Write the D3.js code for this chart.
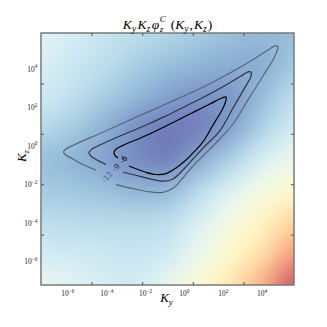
<!DOCTYPE html>
<html>
<head>
<meta charset="utf-8">
<style>
    body { margin: 0; background: #fff; }
    svg { display: block; }
    .ticks line { stroke: #555; stroke-width: 1; }
    .ticks path { display: none; }
    .labs path, .labs line { display: none; }
</style>
</head>
<body>
<svg width="327" height="327"></svg>

<script src="https://d3js.org/d3.v7.min.js"></script>
<script>
// log10 extent of the image on each axis
const kyRange = [-7.36, 5.67]
const kzRange = [-7.22, 5.85]
const tickExp = [-6, -4, -2, 0, 2, 4]
// tick marks sit on image pixel indices (500 px wide image)
const imgSize = 500
const pixTicks = [100, 200, 300, 400]

// colour level (0 = deep blue, 0.5 = yellow, 1 = red), rows top -> bottom
const heat = [
    [0.38, 0.35, 0.31, 0.28, 0.25, 0.22, 0.19, 0.17, 0.18],
    [0.36, 0.32, 0.28, 0.23, 0.19, 0.16, 0.14, 0.14, 0.21],
    [0.33, 0.29, 0.23, 0.17, 0.11, 0.08, 0.09, 0.18, 0.28],
    [0.27, 0.22, 0.15, 0.07, 0.02, 0.03, 0.11, 0.24, 0.34],
    [0.19, 0.16, 0.11, 0.06, 0.03, 0.13, 0.24, 0.35, 0.42],
    [0.22, 0.21, 0.19, 0.16, 0.17, 0.27, 0.37, 0.46, 0.52],
    [0.28, 0.27, 0.27, 0.27, 0.28, 0.36, 0.46, 0.55, 0.65],
    [0.34, 0.33, 0.32, 0.31, 0.33, 0.42, 0.52, 0.63, 0.79],
    [0.41, 0.38, 0.35, 0.34, 0.40, 0.50, 0.60, 0.75, 0.96]
]

// contour lines as [log10 Ky, log10 Kz], open at the inline label
const levels = [-6, -9, -12]
const line6 = [[-2.83,-1.05],[-2.00,-1.36],[-1.44,-1.49],[-0.92,-1.44],[-0.41,-1.15],[0.11,-0.74],
    [0.52,-0.32],[0.98,0.20],[1.50,1.08],[1.99,1.91],[2.14,2.27],[2.17,2.53],[1.96,2.48],[1.34,2.17],
    [0.31,1.65],[-0.92,1.03],[-2.00,0.51],[-3.03,0.07],[-3.45,-0.14],[-3.60,-0.32],[-3.55,-0.50],[-3.40,-0.63]]
const line9 = [[-3.14,-1.36],[-2.26,-1.59],[-1.13,-1.83],[-0.61,-1.75],[-0.10,-1.31],[0.52,-0.63],
    [1.14,0.04],[1.81,0.72],[2.53,1.96],[3.25,3.21],[3.45,3.57],[3.45,3.83],[3.30,3.83],
    [2.89,3.59],[2.12,3.13],[1.09,2.56],[0.06,2.04],[-0.92,1.55],[-2.00,1.05],[-3.29,0.51],[-4.32,0.04],
    [-4.73,-0.17],[-4.89,-0.35],[-4.79,-0.53],[-4.48,-0.74],[-4.01,-0.97]]
const line12 = [[-3.50,-2.01],[-2.62,-2.22],[-1.75,-2.39],[-1.08,-2.42],[-0.51,-2.16],[-0.05,-1.67],
    [0.42,-1.10],[1.03,-0.48],[1.75,0.25],[2.53,1.13],[3.30,2.38],[4.07,3.62],[4.69,4.66],
    [4.84,5.15],[4.69,5.18],[4.33,4.97],[3.66,4.53],[2.37,3.78],[0.83,2.97],[-0.92,2.17],[-2.78,1.34],
    [-4.32,0.64],[-5.61,0.07],[-6.07,-0.17],[-6.20,-0.32],[-6.12,-0.45],[-5.76,-0.66],[-5.15,-1.00],[-4.53,-1.26]]
const labelAt = [[-3.11,-0.71],[-3.50,-1.13],[-3.96,-1.62]]
const lineColours = ["#000000", "#2e3540", "#5a6676"]

let svg = d3.select("svg")
let margin = { top: 33, right: 33, bottom: 42, left: 41 }
let W = 327 - margin.left - margin.right
let H = 327 - margin.top - margin.bottom

let x = d3.scaleLog().domain(kyRange.map(e => 10 ** e)).range([margin.left, margin.left + W])
let y = d3.scaleLog().domain(kzRange.map(e => 10 ** e)).range([margin.top + H, margin.top])
let colour = t => d3.interpolateRdYlBu(1 - t)

// heat map: small image, smoothed up to the plot size, washed with white
let nx = heat[0].length, ny = heat.length
let small = document.createElement("canvas")
small.width = nx
small.height = ny
let sctx = small.getContext("2d")
let imgData = sctx.createImageData(nx, ny)
heat.forEach((row, j) => row.forEach((t, i) => {
    let c = d3.rgb(colour(t))
    let k = (j * nx + i) * 4
    imgData.data[k] = c.r
    imgData.data[k + 1] = c.g
    imgData.data[k + 2] = c.b
    imgData.data[k + 3] = 255
}))
sctx.putImageData(imgData, 0, 0)

let big = document.createElement("canvas")
big.width = W
big.height = H
let bctx = big.getContext("2d")
bctx.fillStyle = "#fff"
bctx.fillRect(0, 0, W, H)
bctx.globalAlpha = 0.7
bctx.imageSmoothingEnabled = true
bctx.imageSmoothingQuality = "high"
let cw = W / (nx - 1), ch = H / (ny - 1)
bctx.drawImage(small, -cw / 2, -ch / 2, W + cw, H + ch)

svg.append("image")
    .attr("x", margin.left).attr("y", margin.top)
    .attr("width", W).attr("height", H)
    .attr("href", big.toDataURL())

// contours
let line = d3.line()
    .x(p => x(10 ** p[0]))
    .y(p => y(10 ** p[1]))
    .curve(d3.curveCatmullRom.alpha(0.5))

svg.append("g")
    .selectAll("path")
    .data([line6, line9, line12])
    .join("path")
    .attr("d", line)
    .attr("fill", "none")
    .attr("stroke", (d, i) => lineColours[i])
    .attr("stroke-width", 1.2)

svg.append("g")
    .selectAll("text")
    .data(levels)
    .join("text")
    .attr("transform", (d, i) => `translate(${x(10 ** labelAt[i][0])},${y(10 ** labelAt[i][1])}) rotate(-50)`)
    .attr("text-anchor", "middle")
    .attr("dy", "0.35em")
    .attr("font-family", "DejaVu Sans, sans-serif")
    .attr("font-size", 7.5)
    .attr("fill", (d, i) => lineColours[i])
    .text(d => d)

// frame
svg.append("rect")
    .attr("x", margin.left).attr("y", margin.top)
    .attr("width", W).attr("height", H)
    .attr("fill", "none")
    .attr("stroke", "#7a7a7a")
    .attr("stroke-width", 1.5)

// tick marks (inward, on image pixel positions)
let px = d3.scaleLinear().domain([0, imgSize]).range([margin.left, margin.left + W])
let py = d3.scaleLinear().domain([0, imgSize]).range([margin.top + H, margin.top])
svg.append("g").attr("class", "ticks").attr("transform", `translate(0,${margin.top + H})`)
    .call(d3.axisBottom(px).tickValues(pixTicks).tickSize(-3).tickFormat(""))
svg.append("g").attr("class", "ticks").attr("transform", `translate(0,${margin.top})`)
    .call(d3.axisTop(px).tickValues(pixTicks).tickSize(-3).tickFormat(""))
svg.append("g").attr("class", "ticks").attr("transform", `translate(${margin.left},0)`)
    .call(d3.axisLeft(py).tickValues(pixTicks).tickSize(-3).tickFormat(""))
svg.append("g").attr("class", "ticks").attr("transform", `translate(${margin.left + W},0)`)
    .call(d3.axisRight(py).tickValues(pixTicks).tickSize(-3).tickFormat(""))

// tick labels 10^k
function powerLabel(sel) {
    sel.selectAll(".tick text").each(function (d) {
        let e = Math.round(Math.log10(d))
        let t = d3.select(this).text("")
            .attr("font-family", "Liberation Serif, DejaVu Serif, serif")
            .attr("font-size", 7.5)
            .attr("fill", "#222")
        t.append("tspan").text("10")
        t.append("tspan").attr("dy", -3.3).attr("font-size", 5.3)
            .text(e < 0 ? "\u2212" + (-e) : "" + e)
    })
}
svg.append("g").attr("class", "labs").attr("transform", `translate(0,${margin.top + H})`)
    .call(d3.axisBottom(x).tickValues(tickExp.map(e => 10 ** e)).tickSize(0).tickPadding(5.5))
    .call(powerLabel)
svg.append("g").attr("class", "labs").attr("transform", `translate(${margin.left},0)`)
    .call(d3.axisLeft(y).tickValues(tickExp.map(e => 10 ** e)).tickSize(0).tickPadding(3.5))
    .call(powerLabel)

// axis labels and title
let mathFont = "Liberation Serif, DejaVu Serif, serif"
let xl = svg.append("text")
    .attr("x", margin.left + W / 2 - 1).attr("y", 302)
    .attr("text-anchor", "middle")
    .attr("font-family", mathFont).attr("font-style", "italic").attr("font-size", 13)
xl.append("tspan").text("K")
xl.append("tspan").attr("font-size", 9).attr("dy", 3).text("y")

let yl = svg.append("text")
    .attr("transform", `translate(26,156) rotate(-90)`)
    .attr("text-anchor", "middle")
    .attr("font-family", mathFont).attr("font-style", "italic").attr("font-size", 13)
yl.append("tspan").text("K")
yl.append("tspan").attr("font-size", 9).attr("dy", 3).text("z")

let title = svg.append("text")
    .attr("x", margin.left + W / 2).attr("y", 29)
    .attr("text-anchor", "middle")
    .attr("font-family", mathFont).attr("font-size", 13.5)
// [text, dy, size, style, dx]
let parts = [
    ["K", 0, 13.5, "italic"], ["y", 2.5, 9.5, "italic"],
    ["K", -2.5, 13.5, "italic", 1.5], ["z", 2.5, 9.5, "italic"],
    ["\u03c6", -2.5, 13.5, "italic", 1.5], ["z", 3, 9, "italic", 0.5],
    ["C", -10, 9, "italic", -3.5], ["(", 7, 13.5, "normal", 5],
    ["K", 0, 13.5, "italic"], ["y", 2.5, 9.5, "italic"], [",", -2.5, 13.5, "normal", 1],
    ["K", 0, 13.5, "italic", 1], ["z", 2.5, 9.5, "italic"], [")", -2.5, 13.5, "normal", 1]
]
parts.forEach(p => {
    title.append("tspan")
        .attr("dy", p[1]).attr("dx", p[4] || 0)
        .attr("font-size", p[2]).attr("font-style", p[3])
        .text(p[0])
})
</script>
</body>
</html>
